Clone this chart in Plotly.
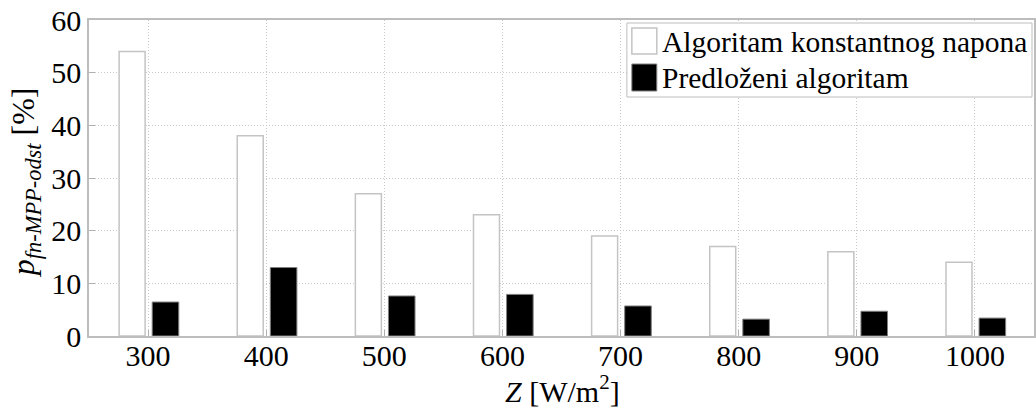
import plotly.graph_objects as go

categories = [300, 400, 500, 600, 700, 800, 900, 1000]
konstantni = [54, 38, 27, 23, 19, 17, 16, 14]
predlozeni = [6.45, 13.0, 7.6, 7.9, 5.7, 3.2, 4.7, 3.4]
y_ticks = [0, 10, 20, 30, 40, 50, 60]
series_names = ["Algoritam konstantnog napona", "Predloženi algoritam"]

FONT = "'Liberation Serif', 'Times New Roman', Times, serif"
FS = 30

W, H = 1036, 410
ML, MR, MT, MB = 89, 0, 20, 74
PW, PH = W - ML - MR, H - MT - MB


def px(x):
    return (x - ML) / PW


def py(y):
    return (H - MB - y) / PH


fig = go.Figure()
fig.add_trace(go.Bar(
    x=categories, y=konstantni, name=series_names[0],
    marker=dict(color="white", line=dict(color="#c4c4c4", width=1.5)),
    width=22, offset=-24.5, showlegend=False,
))
fig.add_trace(go.Bar(
    x=categories, y=predlozeni, name=series_names[1],
    marker=dict(color="black", line=dict(color="#808080", width=1)),
    width=22.5, offset=3.5, showlegend=False,
))

shapes = [
    dict(type="rect", xref="paper", yref="paper",
         x0=px(628), x1=px(1034), y0=py(97), y1=py(23),
         fillcolor="white", line=dict(color="#bdbdbd", width=1), layer="above"),
    dict(type="rect", xref="paper", yref="paper",
         x0=px(633), x1=px(658), y0=py(54), y1=py(28),
         fillcolor="white", line=dict(color="#c4c4c4", width=1.5), layer="above"),
    dict(type="rect", xref="paper", yref="paper",
         x0=px(633), x1=px(658), y0=py(91), y1=py(64),
         fillcolor="black", line=dict(color="#808080", width=1), layer="above"),
]

annotations = [
    dict(text=series_names[0], xref="paper", yref="paper",
         x=px(661), y=py(42), xanchor="left", yanchor="middle",
         showarrow=False, font=dict(family=FONT, size=FS - 0.5, color="black")),
    dict(text=series_names[1], xref="paper", yref="paper",
         x=px(661), y=py(78), xanchor="left", yanchor="middle",
         showarrow=False, font=dict(family=FONT, size=FS - 0.5, color="black")),
    dict(text="<i>Z</i> [W/m<sup>2</sup>]", xref="paper", yref="paper",
         x=px(564), y=py(410), xanchor="center", yanchor="bottom",
         showarrow=False, font=dict(family=FONT, size=FS, color="black")),
    dict(text="<i>p<sub>fn-MPP-odst</sub></i> [%]", xref="paper", yref="paper",
         x=px(25), y=py(182), xanchor="center", yanchor="middle",
         textangle=-90, showarrow=False,
         font=dict(family=FONT, size=32, color="black")),
]

axis_common = dict(
    showgrid=True, gridcolor="#c9c9c9", griddash="1px,2px", gridwidth=1,
    showline=True, linecolor="#bdbdbd", mirror=True, linewidth=1.5,
    ticks="inside", ticklen=6, tickcolor="#b0b0b0",
    zeroline=False,
    tickfont=dict(family=FONT, size=FS, color="black"),
)

fig.update_layout(
    width=W, height=H,
    margin=dict(l=ML, r=MR, t=MT, b=MB),
    plot_bgcolor="white", paper_bgcolor="white",
    font=dict(family=FONT, size=FS, color="black"),
    barmode="overlay",
    showlegend=False,
    shapes=shapes,
    annotations=annotations,
    xaxis=dict(range=[250, 1050], tickvals=categories,
               ticktext=[str(c) for c in categories],
               ticklabelstandoff=-8, **axis_common),
    yaxis=dict(range=[0, 60], tickvals=y_ticks, **axis_common),
)

fig.write_html("out.html")
